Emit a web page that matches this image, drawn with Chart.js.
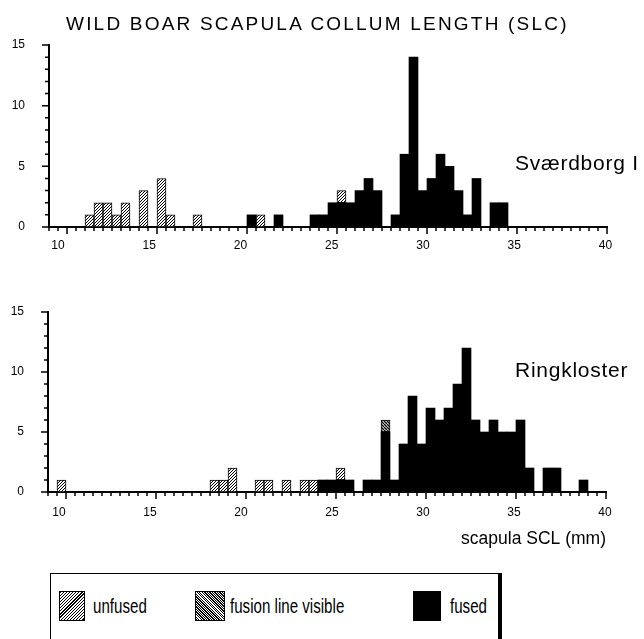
<!DOCTYPE html>
<html>
<head>
<meta charset="utf-8">
<script src="https://cdn.jsdelivr.net/npm/chart.js@4.4.1/dist/chart.umd.min.js"></script>
<style>
  html, body { margin: 0; padding: 0; background: #fff; overflow: hidden; }
  #wrap { position: relative; width: 644px; height: 639px; overflow: hidden;
          font-family: "Liberation Sans", Arial, Helvetica, sans-serif; color: #000; }
  #c1 { position: absolute; left: 0; top: 0; }
  #c2 { position: absolute; left: 0; top: 262px; }
  #title { position: absolute; left: 66px; top: 14px; font-size: 19px; line-height: 19px;
           letter-spacing: 2.2px; white-space: nowrap; }
  #legend { position: absolute; left: 50px; top: 573px; width: 447px; height: 90px;
            border: 1px solid #000; border-right: 4px solid #000; }
  .sw { position: absolute; top: 17px; width: 24px; height: 28px; border: 1px solid #000; }
  .lt { position: absolute; top: 20px; font-size: 21px; line-height: 24px; white-space: nowrap;
        transform: scaleX(0.72); transform-origin: 0 0; }
</style>
</head>
<body>
<div id="wrap">
  <canvas id="c1" width="644" height="262"></canvas>
  <canvas id="c2" width="644" height="310"></canvas>
  <div id="title">WILD BOAR SCAPULA COLLUM LENGTH (SLC)</div>
  <div id="legend">
    <div class="sw" style="left:8px;background:repeating-linear-gradient(135deg,#000 0 0.9px,#fff 0.9px 2.2px);"></div>
    <div class="lt" style="left:42px;">unfused</div>
    <div class="sw" style="left:144px;width:28px;background:repeating-linear-gradient(45deg,#000 0 1px,#fff 1px 1.8px);"></div>
    <div class="lt" style="left:179px;">fusion line visible</div>
    <div class="sw" style="left:362px;width:26px;background:#000;"></div>
    <div class="lt" style="left:399px;">fused</div>
  </div>
</div>
<script>
// ---------------- data (bin lower bounds in mm, counts) ----------------
const binWidth = 0.5;

// Sværdborg I
const svUnfusedBins   = [11, 11.5, 12, 12.5, 13, 14, 15, 15.5, 17, 20.5, 25];
const svUnfusedCounts = [1, 2, 2, 1, 2, 3, 4, 1, 1, 1, 1];
const svFusionBins    = [];
const svFusionCounts  = [];
const svFusedBins     = [20, 21.5, 23.5, 24, 24.5, 25, 25.5, 26, 26.5, 27, 28, 28.5, 29, 29.5, 30, 30.5, 31, 31.5, 32, 32.5, 33.5, 34];
const svFusedCounts   = [1, 1, 1, 1, 2, 2, 2, 3, 4, 3, 1, 6, 14, 3, 4, 6, 5, 3, 1, 4, 2, 2];

// Ringkloster
const rkUnfusedBins   = [9.5, 18, 18.5, 19, 20.5, 21, 22, 23, 23.5, 25];
const rkUnfusedCounts = [1, 1, 1, 2, 1, 1, 1, 1, 1, 1];
const rkFusionBins    = [27.5];
const rkFusionCounts  = [1];
const rkFusedBins     = [24, 24.5, 25, 25.5, 26.5, 27, 27.5, 28, 28.5, 29, 29.5, 30, 30.5, 31, 31.5, 32, 32.5, 33, 33.5, 34, 34.5, 35, 35.5, 36.5, 37, 38.5];
const rkFusedCounts   = [1, 1, 1, 1, 1, 1, 5, 1, 4, 8, 4, 7, 6, 7, 9, 12, 6, 5, 6, 5, 5, 6, 2, 2, 2, 1];

// axes
const xMin = 9, xMax = 40, xMajorStep = 5, xMinorStep = 0.5;
const yMin = 0, yMax = 15, yMajorStep = 5, yMinorStep = 1;
const seriesNames = ['fused', 'fusion line visible', 'unfused'];
const panelNames = ['Sværdborg I', 'Ringkloster'];
const xAxisTitle = 'scapula SCL (mm)';

// ---------------- helpers ----------------
const FONT = '"Liberation Sans", Arial, Helvetica, sans-serif';
Chart.defaults.font.family = FONT;
Chart.defaults.color = '#000';

function toPoints(bins, counts) {
  return bins.map((b, i) => ({ x: b + binWidth / 2, y: counts[i] }));
}

function hatch(size, slash, lw) {
  const c = document.createElement('canvas');
  c.width = size; c.height = size;
  const g = c.getContext('2d');
  g.fillStyle = '#fff'; g.fillRect(0, 0, size, size);
  g.strokeStyle = '#000'; g.lineWidth = lw;
  g.beginPath();
  for (let k = -1; k <= 1; k++) {
    const o = k * size;
    if (slash) { g.moveTo(o, size); g.lineTo(o + size, 0); }
    else { g.moveTo(o, 0); g.lineTo(o + size, size); }
  }
  g.stroke();
  return g.createPattern(c, 'repeat');
}
const unfusedFill = hatch(3, true, 1.0);
const fusionFill = hatch(3, false, 1.4);

const tickMarks = {
  id: 'tickMarks',
  afterDraw(chart) {
    const { ctx, chartArea } = chart;
    const xs = chart.scales.x, ys = chart.scales.y;
    ctx.save();
    ctx.strokeStyle = '#000';
    ctx.lineWidth = 1.5;
    ctx.beginPath();
    const nx = Math.round((xMax - xMin) / xMinorStep);
    for (let i = 0; i <= nx; i++) {
      const v = xMin + i * xMinorStep;
      const p = xs.getPixelForValue(v);
      const major = Math.abs(v / xMajorStep - Math.round(v / xMajorStep)) < 1e-9;
      ctx.moveTo(p, chartArea.bottom);
      ctx.lineTo(p, chartArea.bottom + (major ? 7 : 4));
    }
    const ny = Math.round((yMax - yMin) / yMinorStep);
    for (let i = 0; i <= ny; i++) {
      const v = yMin + i * yMinorStep;
      const p = ys.getPixelForValue(v);
      const major = Math.abs(v / yMajorStep - Math.round(v / yMajorStep)) < 1e-9;
      ctx.moveTo(chartArea.left, p);
      ctx.lineTo(chartArea.left - (major ? 7 : 4), p);
    }
    ctx.stroke();
    ctx.restore();
  }
};

const panelLabel = {
  id: 'panelLabel',
  afterDraw(chart, args, opts) {
    if (!opts || !opts.text) return;
    const ctx = chart.ctx;
    ctx.save();
    ctx.font = opts.size + 'px ' + FONT;
    ctx.fillStyle = '#000';
    ctx.textAlign = 'left';
    ctx.textBaseline = 'alphabetic';
    if ('letterSpacing' in ctx) ctx.letterSpacing = opts.spacing;
    ctx.fillText(opts.text, opts.x, opts.y);
    ctx.restore();
  }
};

function buildPanel(canvasId, fused, fusion, unfused, geo) {
  return new Chart(document.getElementById(canvasId), {
    type: 'bar',
    data: {
      datasets: [
        { label: seriesNames[0], data: fused, xAxisID: 'x', yAxisID: 'y',
          backgroundColor: '#000', borderColor: '#000', borderWidth: 0 },
        { label: seriesNames[1], data: fusion, xAxisID: 'x', yAxisID: 'y',
          backgroundColor: fusionFill, borderColor: '#000', borderWidth: 1, borderSkipped: false },
        { label: seriesNames[2], data: unfused, xAxisID: 'x', yAxisID: 'y',
          backgroundColor: unfusedFill, borderColor: '#000', borderWidth: 1, borderSkipped: false }
      ]
    },
    options: {
      responsive: false,
      animation: false,
      events: [],
      datasets: { bar: { barPercentage: 1, categoryPercentage: 1 } },
      layout: { padding: geo.padding },
      plugins: {
        legend: { display: false },
        tooltip: { enabled: false },
        title: { display: false },
        panelLabel: geo.label
      },
      scales: {
        x: {
          type: 'linear', position: 'bottom', weight: 0, min: xMin, max: xMax, stacked: true,
          offset: false,
          grid: { display: false, drawTicks: false, offset: false },
          border: { display: true, color: '#000', width: 2 },
          ticks: { display: false },
          afterFit: s => { s.height = 8; }
        },
        xl: {
          type: 'linear', position: 'bottom', weight: 1, min: geo.lab.min, max: geo.lab.max,
          offset: false,
          grid: { display: false, drawTicks: false, offset: false },
          border: { display: false },
          ticks: { stepSize: xMajorStep, includeBounds: false, padding: geo.lab.pad, maxRotation: 0,
                   autoSkip: false, font: { size: 12 }, color: '#000' },
          title: geo.axisTitle,
          afterFit: s => { s.height = geo.lab.h; }
        },
        y: {
          type: 'linear', position: 'left', min: yMin, max: yMax, stacked: true,
          grid: { display: false, drawTicks: false },
          border: { display: true, color: '#000', width: 2 },
          ticks: { stepSize: yMajorStep, padding: 24, font: { size: 12 }, color: '#000' },
          afterFit: s => { s.width = geo.yWidth; }
        }
      }
    },
    plugins: [tickMarks, panelLabel]
  });
}

buildPanel('c1',
  toPoints(svFusedBins, svFusedCounts),
  toPoints(svFusionBins, svFusionCounts),
  toPoints(svUnfusedBins, svUnfusedCounts),
  {
    padding: { top: 45, left: 0, right: 37, bottom: 2 },
    yWidth: 49,
    lab: { min: 9.507, max: 40.082, pad: 3, h: 25 },
    axisTitle: { display: false },
    label: { text: panelNames[0], x: 515, y: 170, size: 21, spacing: '0.75px' }
  });

buildPanel('c2',
  toPoints(rkFusedBins, rkFusedCounts),
  toPoints(rkFusionBins, rkFusionCounts),
  toPoints(rkUnfusedBins, rkUnfusedCounts),
  {
    padding: { top: 50, left: 0, right: 38, bottom: 22 },
    yWidth: 48,
    lab: { min: 9.396, max: 40.056, pad: 5, h: 50 },
    axisTitle: { display: true, text: xAxisTitle, align: 'end', color: '#000',
                 font: { size: 17.5 }, padding: { top: 0, bottom: 0 } },
    label: { text: panelNames[1], x: 515, y: 114.7, size: 21, spacing: '0.75px' }
  });
</script>
</body>
</html>
